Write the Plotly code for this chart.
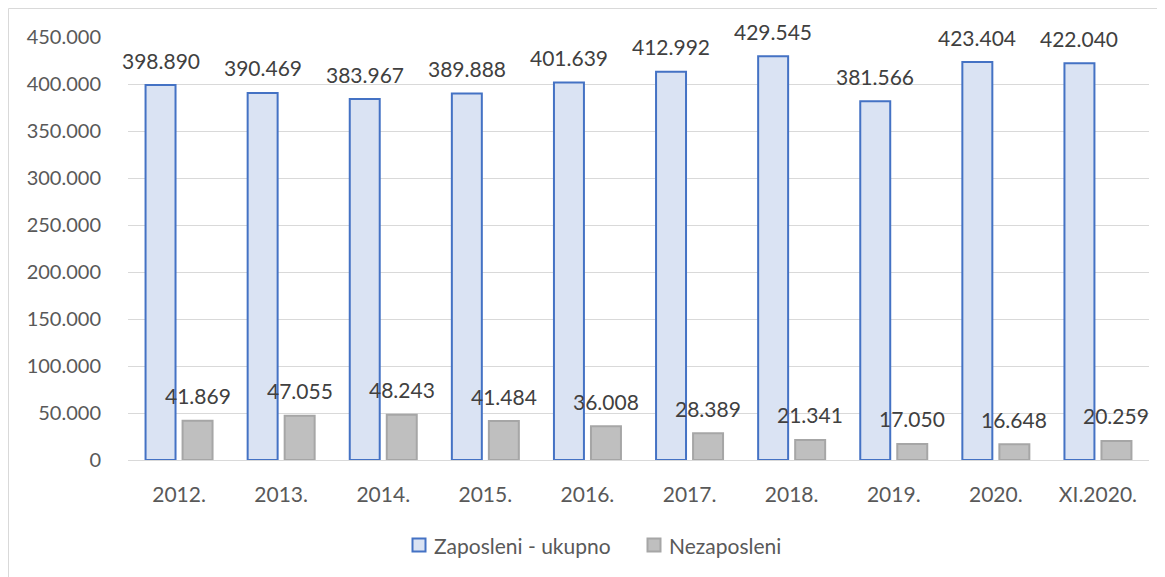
import plotly.graph_objects as go

categories = ["2012.", "2013.", "2014.", "2015.", "2016.", "2017.", "2018.", "2019.", "2020.", "XI.2020."]
zaposleni = [398890, 390469, 383967, 389888, 401639, 412992, 429545, 381566, 423404, 422040]
nezaposleni = [41869, 47055, 48243, 41484, 36008, 28389, 21341, 17050, 16648, 20259]
series_names = ["Zaposleni - ukupno", "Nezaposleni"]
y_ticks = [0, 50000, 100000, 150000, 200000, 250000, 300000, 350000, 400000, 450000]
y_tick_labels = ["0", "50.000", "100.000", "150.000", "200.000", "250.000", "300.000", "350.000", "400.000", "450.000"]


def fmt(v):
    return f"{v:,}".replace(",", ".")


pos = list(range(len(categories)))

FONT = "Lato"
W, H = 1157, 569
L, R, T, B = 120, 16, 29, 117
PW, PH = W - L - R, H - T - B


def px(fx):
    return (fx - L) / PW


def py(fy):
    return (T + PH - fy) / PH


fills = ["#DAE3F3", "#BFBFBF"]
edges = ["#4472C4", "#A6A6A6"]

fig = go.Figure()
for name, vals, fc, ec in zip(series_names, [zaposleni, nezaposleni], fills, edges):
    fig.add_trace(go.Bar(
        x=pos, y=vals, name=name,
        marker=dict(color=fc, line=dict(color=ec, width=2)),
    ))

annotations = []
for p, v in zip(pos, zaposleni):
    annotations.append(dict(x=p, y=v, xref="x", yref="y", text=fmt(v), showarrow=False,
                            xshift=-18.5, yshift=25, yanchor="middle",
                            font=dict(family=FONT, size=21, color="#404040")))
for p, v in zip(pos, nezaposleni):
    annotations.append(dict(x=p, y=v, xref="x", yref="y", text=fmt(v), showarrow=False,
                            xshift=18.5, yshift=25, yanchor="middle",
                            font=dict(family=FONT, size=21, color="#404040")))

shapes = [dict(type="rect", xref="paper", yref="paper",
               x0=px(0.5), x1=px(W + 20), y0=py(H + 20), y1=py(0.5),
               line=dict(color="#D9D9D9", width=1), fillcolor="rgba(0,0,0,0)", layer="below")]

# custom legend
legend_sq_x = [404.5, 639.5]
for sx, name, fc, ec in zip(legend_sq_x, series_names, fills, edges):
    shapes.append(dict(type="rect", xref="paper", yref="paper",
                       x0=px(sx), x1=px(sx + 13), y0=py(543.5), y1=py(530.5),
                       line=dict(color=ec, width=2), fillcolor=fc))
    annotations.append(dict(x=px(sx + 19), y=py(537), xref="paper", yref="paper",
                            xanchor="left", yanchor="middle", text=name, showarrow=False,
                            font=dict(family=FONT, size=21, color="#595959")))

fig.update_layout(
    width=W, height=H,
    margin=dict(l=L, r=R, t=T, b=B, autoexpand=False),
    paper_bgcolor="white", plot_bgcolor="white",
    barmode="group", bargap=0.275, bargroupgap=0.19,
    font=dict(family=FONT, size=20, color="#595959"),
    showlegend=False,
    annotations=annotations,
    shapes=shapes,
    xaxis=dict(range=[-0.5, len(categories) - 0.5], tickvals=pos, ticktext=categories,
               automargin=False, showgrid=False, showline=False, zeroline=False,
               ticks="outside", ticklen=16, tickcolor="rgba(0,0,0,0)",
               tickfont=dict(family=FONT, size=21, color="#595959")),
    yaxis=dict(range=[0, 450000], automargin=False, tickvals=y_ticks, ticktext=y_tick_labels,
               showgrid=True, gridcolor="#D9D9D9", gridwidth=1, zeroline=True,
               zerolinecolor="#D9D9D9", zerolinewidth=1, ticks="outside", ticklen=22,
               tickcolor="rgba(0,0,0,0)", tickfont=dict(family=FONT, size=20, color="#595959")),
)

fig.write_html("out.html")
